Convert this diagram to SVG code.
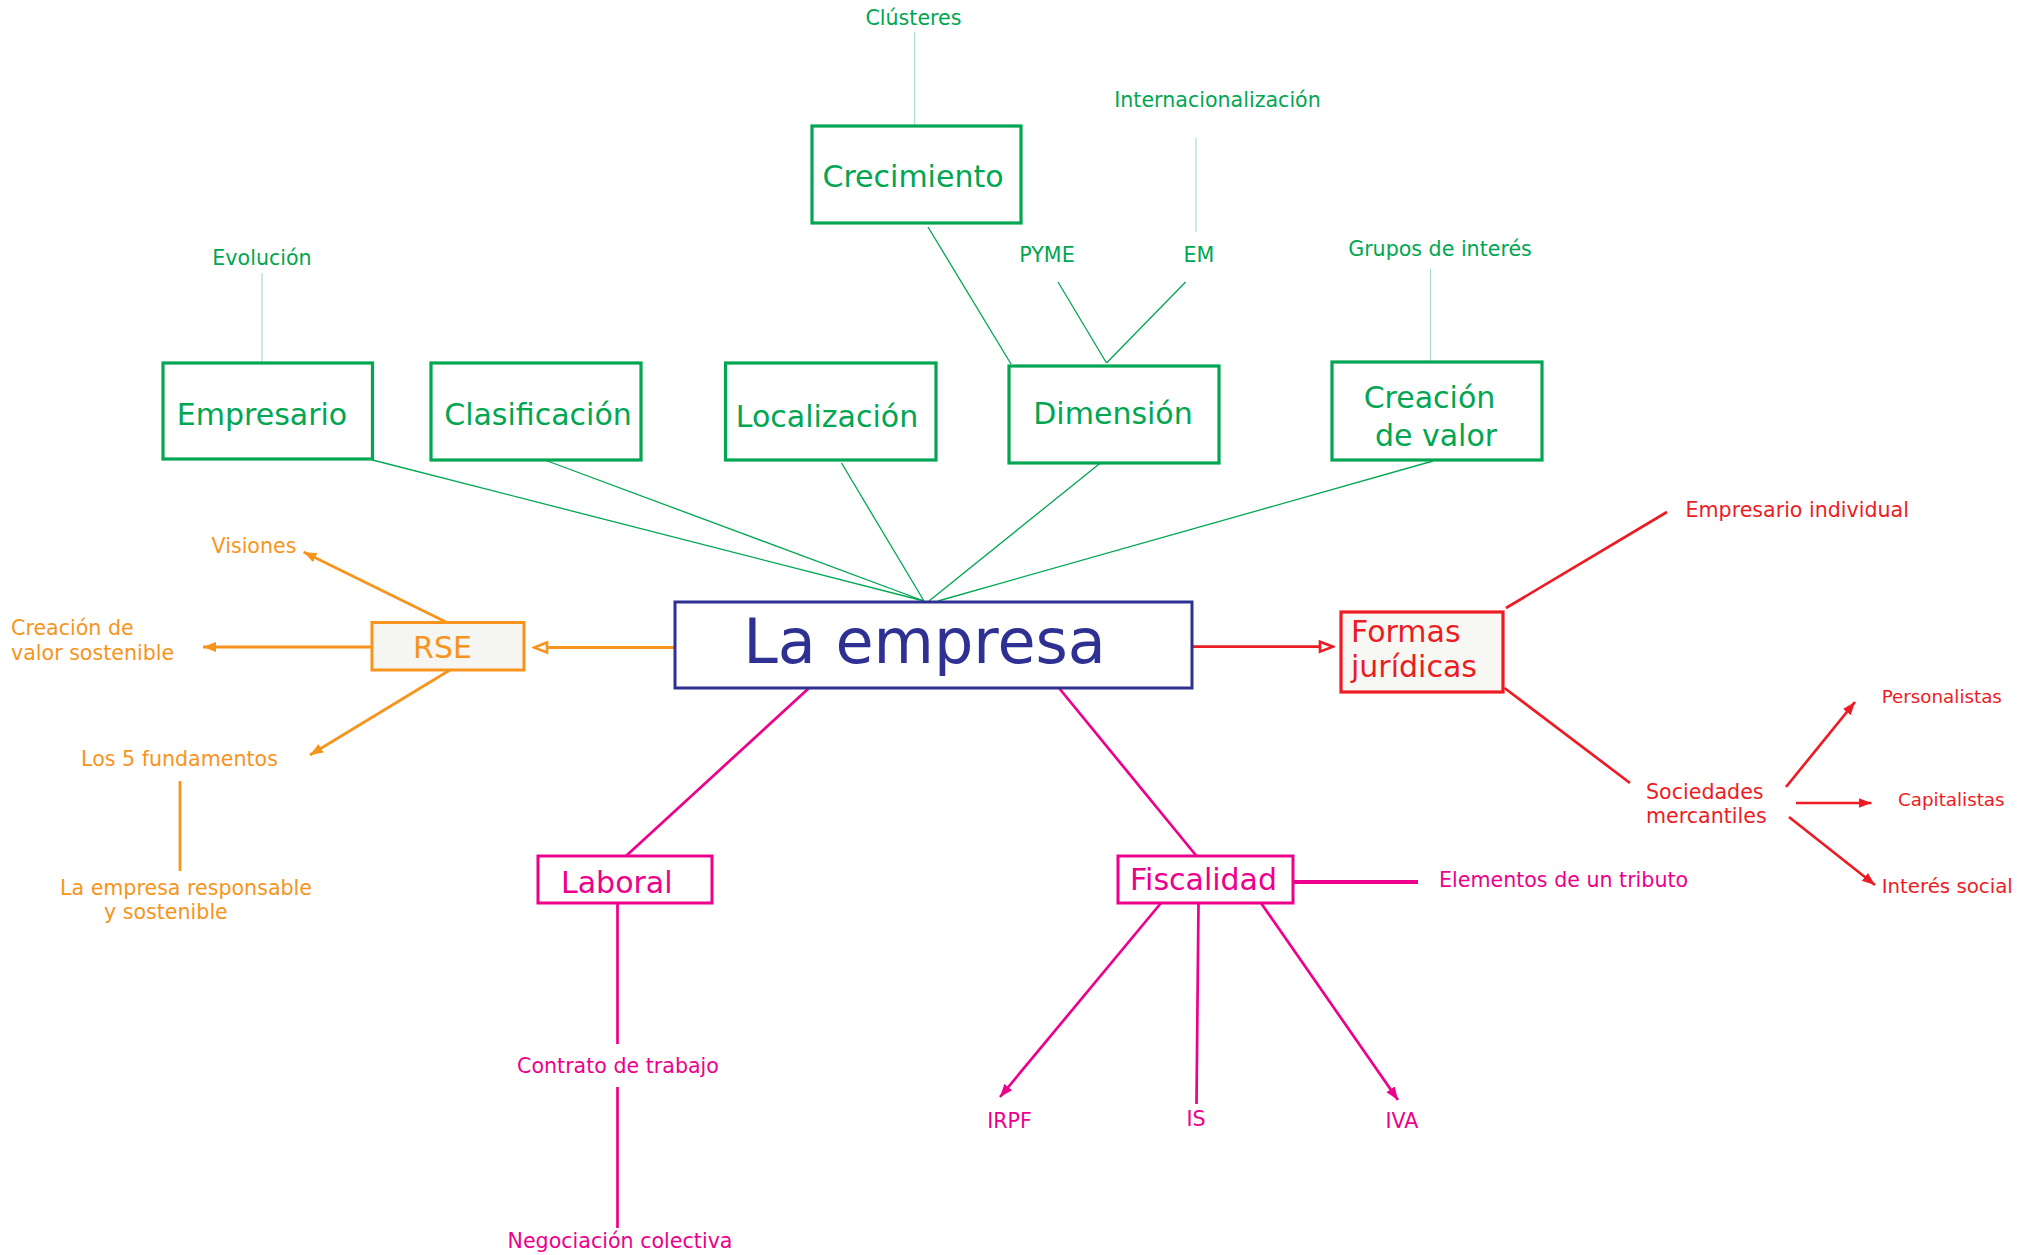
<svg xmlns="http://www.w3.org/2000/svg" width="2024" height="1255" viewBox="0 0 2024 1255">
<style>
text{font-family:"DejaVu Sans","Liberation Sans",sans-serif}
.g{fill:#00a651}.o{fill:#f7941d}.m{fill:#ec008c}.r{fill:#ed1c24}
.box-g{fill:#fff;stroke:#00a651;stroke-width:3.2}
.lg{stroke:#00a651;stroke-width:1.3;fill:none}
.ll{stroke:#a9dcc8;stroke-width:1.2;fill:none}
.lo{stroke:#f7941d;stroke-width:2.8;fill:none}
.lm{stroke:#ec008c;stroke-width:2.7;fill:none}
.lr{stroke:#ed1c24;stroke-width:2.7;fill:none}
.big{font-size:30px}
.sm{font-size:20.6px}
.c{text-anchor:middle}
</style>
<defs>
<marker id="ao" markerUnits="userSpaceOnUse" markerWidth="14" markerHeight="12" refX="13" refY="6" orient="auto"><path d="M0,1 L13,6 L0,11 z" fill="#f7941d"/></marker>
<marker id="am" markerUnits="userSpaceOnUse" markerWidth="14" markerHeight="12" refX="13" refY="6" orient="auto"><path d="M0,1 L13,6 L0,11 z" fill="#ec008c"/></marker>
<marker id="ar" markerUnits="userSpaceOnUse" markerWidth="14" markerHeight="12" refX="13" refY="6" orient="auto"><path d="M0,1 L13,6 L0,11 z" fill="#ed1c24"/></marker>
<marker id="ho" markerUnits="userSpaceOnUse" markerWidth="18" markerHeight="16" refX="16" refY="8" orient="auto"><path d="M3,3 L16,8 L3,13 z" fill="#fff" stroke="#f7941d" stroke-width="2.6"/></marker>
<marker id="hr" markerUnits="userSpaceOnUse" markerWidth="18" markerHeight="16" refX="16" refY="8" orient="auto"><path d="M3,3 L16,8 L3,13 z" fill="#fff" stroke="#ed1c24" stroke-width="2.6"/></marker>
</defs>
<rect width="2024" height="1255" fill="#fff"/>

<g id="connectors">
<line class="lg" x1="372.5" y1="460" x2="924" y2="601"/>
<line class="lg" x1="544.7" y1="460" x2="924" y2="601"/>
<line class="lg" x1="841.5" y1="463" x2="924" y2="601"/>
<line class="lg" x1="1100.4" y1="463" x2="929" y2="601"/>
<line class="lg" x1="1433" y1="461" x2="938" y2="601"/>
<line class="lg" x1="928" y1="227" x2="1011" y2="364"/>
<line class="lg" x1="1058" y1="282" x2="1106.5" y2="363"/>
<line class="lg" x1="1185.6" y1="282" x2="1106.5" y2="363"/>
<line class="ll" x1="262" y1="273" x2="262" y2="362"/>
<line class="ll" x1="914.7" y1="32" x2="914.7" y2="126"/>
<line class="ll" x1="1196" y1="138" x2="1196" y2="232"/>
<line class="ll" x1="1430.5" y1="269" x2="1430.5" y2="361"/>

<line class="lo" x1="675" y1="647.5" x2="534" y2="647.5" marker-end="url(#ho)"/>
<line class="lo" x1="446" y1="622" x2="303.6" y2="552" marker-end="url(#ao)"/>
<line class="lo" x1="372" y1="647" x2="203" y2="647" marker-end="url(#ao)"/>
<line class="lo" x1="450" y1="670" x2="310" y2="755" marker-end="url(#ao)"/>
<line class="lo" x1="180" y1="781" x2="180" y2="871"/>

<line class="lr" x1="1192" y1="646.7" x2="1333" y2="646.7" marker-end="url(#hr)"/>
<line class="lr" x1="1506" y1="608" x2="1667" y2="512"/>
<line class="lr" x1="1504.5" y1="688" x2="1630" y2="783"/>
<line class="lr" x1="1786" y1="787" x2="1855" y2="702" marker-end="url(#ar)"/>
<line class="lr" x1="1796" y1="803" x2="1871.5" y2="803" marker-end="url(#ar)"/>
<line class="lr" x1="1789" y1="817" x2="1875" y2="885" marker-end="url(#ar)"/>

<line class="lm" x1="809" y1="688" x2="626" y2="856"/>
<line class="lm" x1="1059" y1="688" x2="1196.5" y2="856"/>
<line class="lm" x1="617.5" y1="903" x2="617.5" y2="1044"/>
<line class="lm" x1="617.5" y1="1087" x2="617.5" y2="1228"/>
<line class="lm" x1="1293" y1="882" x2="1418" y2="882" style="stroke-width:4"/>
<line class="lm" x1="1161" y1="903" x2="1000" y2="1097" marker-end="url(#am)"/>
<line class="lm" x1="1198.5" y1="903" x2="1196.5" y2="1104"/>
<line class="lm" x1="1261" y1="903" x2="1398" y2="1100" marker-end="url(#am)"/>
</g>

<g id="main">
<rect x="675" y="602" width="517" height="86" fill="#fff" stroke="#2e3192" stroke-width="3"/>
<text x="924.5" y="663" class="c" font-size="62" fill="#2e3192">La empresa</text>
</g>

<g id="empresario">
<rect class="box-g" x="163" y="363" width="209.5" height="96"/>
<text x="262" y="425" class="g big c">Empresario</text>
</g>
<g id="evolucion"><text x="262" y="265" class="g sm c">Evolución</text></g>

<g id="clasificacion">
<rect class="box-g" x="431" y="363" width="210" height="97"/>
<text x="538" y="425" class="g big c">Clasificación</text>
</g>

<g id="localizacion">
<rect class="box-g" x="725.5" y="363" width="210.5" height="97"/>
<text x="827" y="427" class="g big c">Localización</text>
</g>

<g id="dimension">
<rect class="box-g" x="1009" y="366" width="210" height="97"/>
<text x="1113" y="424" class="g big c">Dimensión</text>
</g>
<g id="pyme"><text x="1047" y="262" class="g sm c">PYME</text></g>
<g id="em"><text x="1199" y="262" class="g sm c">EM</text></g>
<g id="internacionalizacion"><text x="1217.5" y="107" class="g sm c">Internacionalización</text></g>

<g id="crecimiento">
<rect class="box-g" x="812" y="126" width="209" height="97"/>
<text x="913" y="187" class="g big c">Crecimiento</text>
</g>
<g id="clusteres"><text x="913.5" y="25" class="g sm c">Clústeres</text></g>

<g id="creacion-valor">
<rect class="box-g" x="1332" y="362" width="210" height="98"/>
<text x="1429.5" y="408" class="g big c">Creación</text>
<text x="1436" y="446" class="g big c">de valor</text>
</g>
<g id="grupos"><text x="1440" y="256" class="g sm c">Grupos de interés</text></g>

<g id="rse">
<rect x="372" y="622.5" width="152" height="47.5" fill="#f5f6f2" stroke="#f7941d" stroke-width="3"/>
<text x="442.5" y="658" class="o big c">RSE</text>
</g>
<g id="visiones"><text x="254" y="553" class="o sm c">Visiones</text></g>
<g id="valor-sostenible"><text x="11" y="635" class="o sm">Creación de</text><text x="11" y="660" class="o sm">valor sostenible</text></g>
<g id="fundamentos"><text x="179.5" y="766" class="o sm c">Los 5 fundamentos</text></g>
<g id="responsable"><text x="60" y="895" class="o sm">La empresa responsable</text><text x="104" y="919" class="o sm">y sostenible</text></g>

<g id="formas">
<rect x="1341" y="612" width="162" height="80" fill="#f7f8f3" stroke="#ed1c24" stroke-width="3.2"/>
<text x="1351" y="642" class="r big">Formas</text>
<text x="1351" y="677" class="r big">jurídicas</text>
</g>
<g id="individual"><text x="1685.5" y="517" class="r sm">Empresario individual</text></g>
<g id="sociedades"><text x="1646" y="799" class="r sm">Sociedades</text><text x="1646" y="823" class="r sm">mercantiles</text></g>
<g id="personalistas"><text x="1881.7" y="703" class="r" font-size="18.3">Personalistas</text></g>
<g id="capitalistas"><text x="1898" y="806" class="r" font-size="18.3">Capitalistas</text></g>
<g id="interes"><text x="1881.7" y="893" class="r" font-size="19.8">Interés social</text></g>

<g id="laboral">
<rect x="538" y="856" width="174" height="47" fill="#fff" stroke="#ec008c" stroke-width="3"/>
<text x="561" y="893" class="m big">Laboral</text>
</g>
<g id="contrato"><text x="618" y="1073" class="m sm c">Contrato de trabajo</text></g>
<g id="negociacion"><text x="620" y="1248" class="m sm c">Negociación colectiva</text></g>

<g id="fiscalidad">
<rect x="1118" y="856" width="175" height="47" fill="#fff" stroke="#ec008c" stroke-width="3"/>
<text x="1203.5" y="890" class="m big c">Fiscalidad</text>
</g>
<g id="elementos"><text x="1439" y="887" class="m sm">Elementos de un tributo</text></g>
<g id="irpf"><text x="1009.5" y="1128" class="m sm c">IRPF</text></g>
<g id="is"><text x="1196" y="1126" class="m sm c">IS</text></g>
<g id="iva"><text x="1402" y="1128" class="m sm c">IVA</text></g>
</svg>
